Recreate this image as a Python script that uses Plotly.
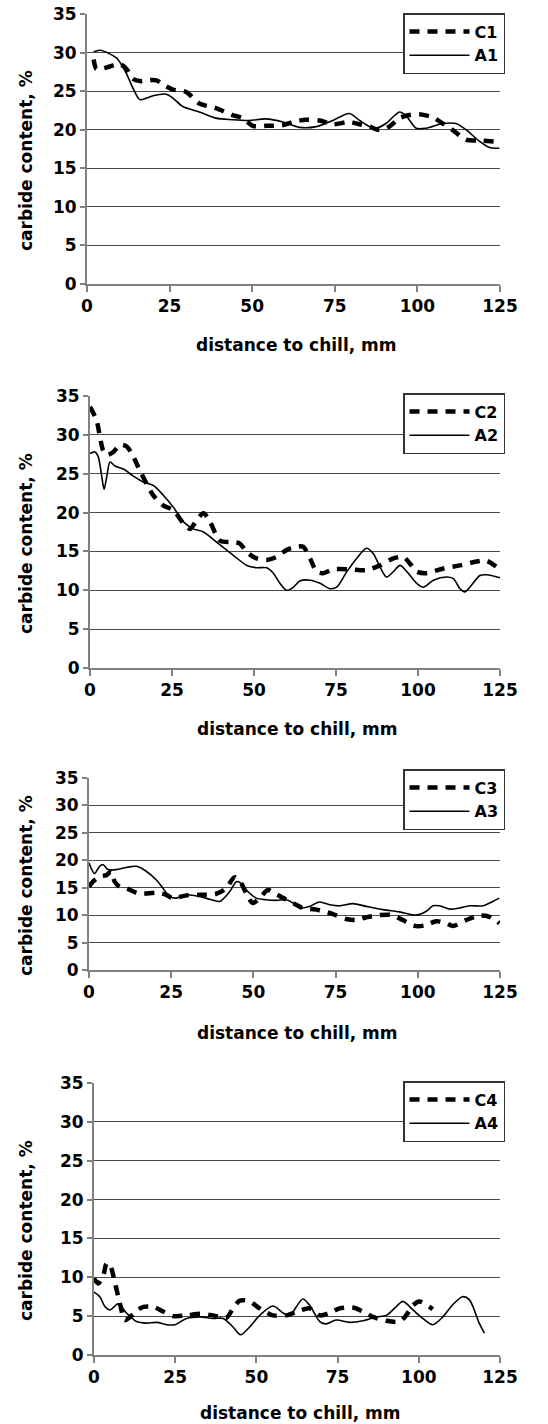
import plotly.graph_objects as go

# ---------------- data ----------------
x1_C = [2, 2.8, 3.8, 6.9, 9.9, 11.9, 13.9, 16, 18, 21, 24, 26, 30, 34, 39, 44, 47.2, 50.2, 54.2, 59.3, 62.3,
        66.3, 70.4, 74.4, 79.4, 82.5, 85.5, 88.5, 91.5, 94.6, 97.6, 100.6, 104.6, 107.7, 110.7, 114.7, 118.8, 124.8]
y1_C = [29.1, 27.9, 27.8, 28.2, 28.5, 27.9, 26.6, 26.3, 26.4, 26.4, 25.6, 25.2, 24.9, 23.4, 22.8, 21.9, 21.5,
        20.5, 20.5, 20.6, 21.0, 21.3, 21.2, 20.7, 21.0, 20.7, 20.4, 19.95, 20.4, 21.5, 21.9, 22.0, 21.6, 20.8,
        19.95, 18.7, 18.6, 18.4]
x1_A = [2, 4, 8.9, 11.9, 13.9, 16, 18, 20, 24, 26, 29, 34, 39, 44, 49, 54.2, 59.3, 64.3, 69.4, 74.4, 79.4,
        82.5, 85.5, 87.5, 90.5, 94.6, 96.6, 99.6, 102.6, 107.7, 111.7, 114.7, 118.8, 121.8, 124.8]
y1_A = [30.1, 30.3, 29.3, 27.3, 25.4, 23.9, 24.1, 24.4, 24.6, 24.1, 23.0, 22.3, 21.5, 21.3, 21.2, 21.4, 21.0,
        20.3, 20.4, 21.2, 22.1, 21.2, 20.4, 20.2, 20.8, 22.3, 21.8, 20.2, 20.2, 20.8, 20.8, 20.0, 18.5, 17.7, 17.6]

x2_C = [0, 2, 3, 4, 5.1, 7.1, 9.1, 11.2, 13.2, 15.2, 17.3, 19.3, 22.4, 25.4, 28.5, 30.5, 32.5, 34.6, 36.6,
        39.6, 43.7, 45.7, 47.8, 50.8, 53.9, 56.9, 60, 63, 65, 67.1, 69.1, 71.1, 74.2, 79.3, 84.3, 88.4, 92.5,
        95.5, 97.6, 99.6, 102.6, 107.7, 112.8, 117.9, 120.9, 124]
y2_C = [33.6, 31.9, 29.8, 28.0, 27.4, 27.8, 28.7, 28.5, 27.2, 25.4, 23.7, 22.2, 20.9, 20.3, 18.6, 17.9, 19.0,
        19.9, 18.8, 16.4, 16.2, 16.0, 14.9, 14.1, 13.9, 14.3, 15.2, 15.6, 15.6, 14.1, 12.4, 12.2, 12.7, 12.7,
        12.6, 13.2, 14.1, 14.3, 13.4, 12.4, 12.2, 12.8, 13.2, 13.7, 13.8, 13.0]
x2_A = [0, 1.5, 2.5, 3.6, 4.3, 5.1, 6.1, 7.6, 10.2, 13.2, 16.3, 19.3, 22.4, 25.4, 28.5, 31.5, 34.6, 38.6,
        43.7, 47.8, 50.8, 53.9, 55.9, 57.9, 60, 62, 64, 67.1, 70.1, 73.2, 75.2, 78.3, 81.3, 84.3, 86.4, 88.4,
        90.4, 92.5, 94.5, 96.6, 99.6, 101.6, 104.7, 108.7, 110.8, 112.8, 114.3, 115.8, 118.9, 120.9, 125]
y2_A = [27.6, 27.8, 27.2, 24.6, 23.0, 24.6, 26.5, 26.0, 25.6, 24.7, 23.9, 23.5, 22.2, 20.7, 18.8, 17.9, 17.5,
        16.2, 14.5, 13.2, 12.9, 12.9, 12.2, 10.9, 10.0, 10.4, 11.2, 11.3, 10.9, 10.2, 10.4, 12.4, 14.1, 15.4,
        14.7, 13.0, 11.7, 12.4, 13.2, 12.4, 10.9, 10.4, 11.3, 11.7, 11.5, 10.2, 9.8, 10.4, 11.9, 12.0, 11.6]

x3_C = [0, 1.2, 3.2, 5.3, 6.8, 7.8, 9.3, 11.3, 15.4, 20.5, 23.5, 25.5, 29.6, 33.6, 38.7, 41.7, 44.3, 46.3,
        47.8, 49.8, 51.9, 54.4, 56.4, 60, 63, 65, 69.1, 74.2, 78.2, 81.3, 84.3, 88.3, 92.4, 95.4, 99.5, 102.6,
        105.6, 108.7, 110.7, 114.7, 118.8, 121.8, 124.8]
y3_C = [15.2, 16.1, 17.0, 17.3, 18.0, 16.1, 15.2, 14.9, 13.9, 14.1, 13.7, 13.1, 13.6, 13.7, 13.9, 14.9, 16.9,
        15.8, 14.0, 12.2, 13.1, 14.6, 14.0, 12.8, 11.9, 11.3, 11.0, 10.2, 9.3, 9.1, 9.6, 10.0, 10.0, 9.1, 8.0,
        8.2, 8.9, 8.5, 8.0, 9.1, 9.9, 9.7, 8.5]
x3_A = [0, 1.7, 3.2, 4.3, 5.8, 8.3, 11.3, 14.4, 17.4, 20.5, 22.5, 24.5, 26.5, 29.6, 33.6, 36.7, 39.7, 42.8,
        44.8, 46.3, 48.3, 50.9, 53.9, 56.9, 60, 63, 65, 67.1, 70.1, 73.2, 76.2, 80.2, 84.3, 89.4, 94.4, 99.5,
        102.6, 104.6, 106.6, 109.7, 112.7, 115.7, 119.8, 122.8, 124.8]
y3_A = [19.5, 17.6, 18.9, 19.2, 18.3, 18.3, 18.7, 18.9, 18.0, 16.4, 14.9, 13.4, 13.1, 13.7, 13.4, 12.9, 12.5,
        14.3, 16.1, 15.8, 14.3, 13.1, 12.8, 12.7, 12.8, 11.9, 11.3, 11.6, 12.4, 11.9, 11.7, 12.1, 11.6, 11.0,
        10.6, 10.0, 10.7, 11.7, 11.7, 11.1, 11.3, 11.7, 11.7, 12.5, 13.1]

x4_C = [0, 1.3, 2.9, 3.9, 4.9, 6.5, 8, 9.5, 11.1, 13.1, 15.2, 18.2, 21.3, 24.4, 28.5, 32.6, 36.7, 40.8, 42.8,
        44.9, 47.9, 51, 55.1, 59.2, 63.3, 66.4, 69.5, 72.5, 75.6, 79.7, 82.8, 85.9, 90, 94.1, 96.1, 98.2,
        100.2, 103.3, 104.3]
y4_C = [9.85, 9.2, 10.3, 11.8, 11.6, 9.2, 6.6, 4.5, 4.9, 5.7, 6.2, 6.2, 5.6, 5.0, 5.1, 5.3, 5.1, 4.8, 6.0,
        7.0, 6.9, 6.0, 5.1, 5.1, 5.7, 6.0, 5.1, 5.4, 6.0, 6.1, 5.6, 4.9, 4.4, 4.3, 5.1, 6.4, 6.9, 6.2, 5.9]
x4_A = [0, 1.8, 3.4, 4.9, 7.5, 10, 13.1, 16.2, 19.3, 22.3, 24.9, 28.5, 32.6, 36.7, 39.8, 42.8, 45.1, 47.9,
        51, 55.1, 58.2, 60.2, 62.3, 64.3, 66.4, 69.5, 71.5, 74.6, 78.7, 82.8, 86.9, 90, 93, 95.1, 98.2, 101.2,
        104.3, 107.4, 110.5, 113.5, 115.6, 118.6, 120.2]
y4_A = [8.1, 7.5, 6.2, 5.8, 6.6, 5.4, 4.3, 4.1, 4.2, 3.9, 3.9, 4.7, 4.9, 4.7, 4.7, 3.6, 2.6, 3.6, 5.1, 6.3,
        5.4, 5.0, 6.2, 7.2, 6.4, 4.3, 4.0, 4.5, 4.2, 4.4, 4.9, 5.1, 6.2, 6.9, 5.8, 4.7, 3.9, 4.9, 6.5, 7.5,
        7.1, 4.1, 2.8]

panels = [
    ("C1", x1_C, y1_C, "A1", x1_A, y1_A),
    ("C2", x2_C, y2_C, "A2", x2_A, y2_A),
    ("C3", x3_C, y3_C, "A3", x3_A, y3_A),
    ("C4", x4_C, y4_C, "A4", x4_A, y4_A),
]
x_ticks = [0, 25, 50, 75, 100, 125]
y_ticks = [0, 5, 10, 15, 20, 25, 30, 35]
x_title = "distance to chill, mm"
y_title = "carbide content, %"

# ---------------- layout (pixel geometry) ----------------
W, H = 548, 1424
boxes = [  # left, right, top, bottom in px
    (87, 500, 14, 284),
    (90, 500, 396, 668),
    (89, 500, 778, 970),
    (94, 500, 1083, 1355),
]
xtitle_y = [345, 729, 1033, 1413]
legend_top = [13, 393, 769, 1081]
FONT = "DejaVu Sans"

fig = go.Figure()
layout = dict(width=W, height=H, margin=dict(l=0, r=0, t=0, b=0, autoexpand=False),
              paper_bgcolor="white", plot_bgcolor="white", showlegend=True,
              font=dict(family=FONT, size=16, color="black"), annotations=[])

for i, (cn, cx, cy, an, ax_, ay) in enumerate(panels):
    k = "" if i == 0 else str(i + 1)
    leg = "legend" if i == 0 else f"legend{i + 1}"
    fig.add_trace(go.Scatter(x=cx, y=cy, name=cn, mode="lines", xaxis="x" + k, yaxis="y" + k,
                             legend=leg, line=dict(color="black", width=4.5, dash="10px,8px",
                                                   shape="spline", smoothing=0.8)))
    fig.add_trace(go.Scatter(x=ax_, y=ay, name=an, mode="lines", xaxis="x" + k, yaxis="y" + k,
                             legend=leg, line=dict(color="black", width=1.6,
                                                   shape="spline", smoothing=0.8)))
    l, r, t, b = boxes[i]
    layout["xaxis" + k] = dict(domain=[l / W, r / W], anchor="y" + k, range=[0, 125], automargin=False,
                               tickvals=x_ticks, ticks="outside", ticklen=6, tickwidth=1.5,
                               tickcolor="#808080", showline=True, linecolor="#808080", linewidth=2,
                               showgrid=False, zeroline=False,
                               tickfont=dict(family=FONT, size=17, color="black", weight="bold"))
    layout["yaxis" + k] = dict(domain=[1 - b / H, 1 - t / H], anchor="x" + k, range=[0, 35], automargin=False,
                               tickvals=y_ticks, ticks="outside", ticklen=5, tickwidth=1.5,
                               tickcolor="#808080", showline=True, linecolor="#808080", linewidth=2,
                               showgrid=True, gridcolor="#4a4a4a", gridwidth=1.2, zeroline=False,
                               tickfont=dict(family=FONT, size=17, color="black", weight="bold"))
    layout[leg] = dict(x=505 / W, xanchor="right", y=1 - legend_top[i] / H, yanchor="top",
                       bgcolor="white", bordercolor="#333333", borderwidth=1.5,
                       itemwidth=60, traceorder="normal", tracegroupgap=0,
                       font=dict(family=FONT, size=16, color="black", weight="bold"))
    layout["annotations"].append(dict(text=x_title, xref="paper", yref="paper",
                                      x=((l + r) / 2 + 3) / W, y=1 - xtitle_y[i] / H,
                                      xanchor="center", yanchor="middle", showarrow=False,
                                      font=dict(family=FONT, size=17, color="black", weight="bold")))
    layout["annotations"].append(dict(text=y_title, xref="paper", yref="paper", textangle=-90,
                                      x=26 / W, y=1 - ((t + b) / 2 + 12) / H,
                                      xanchor="center", yanchor="middle", showarrow=False,
                                      font=dict(family=FONT, size=17, color="black", weight="bold")))

fig.update_layout(**layout)
fig.write_html("out.html", config={"displayModeBar": False},
               post_script="document.body.style.margin='0';document.body.style.overflow='hidden';")
